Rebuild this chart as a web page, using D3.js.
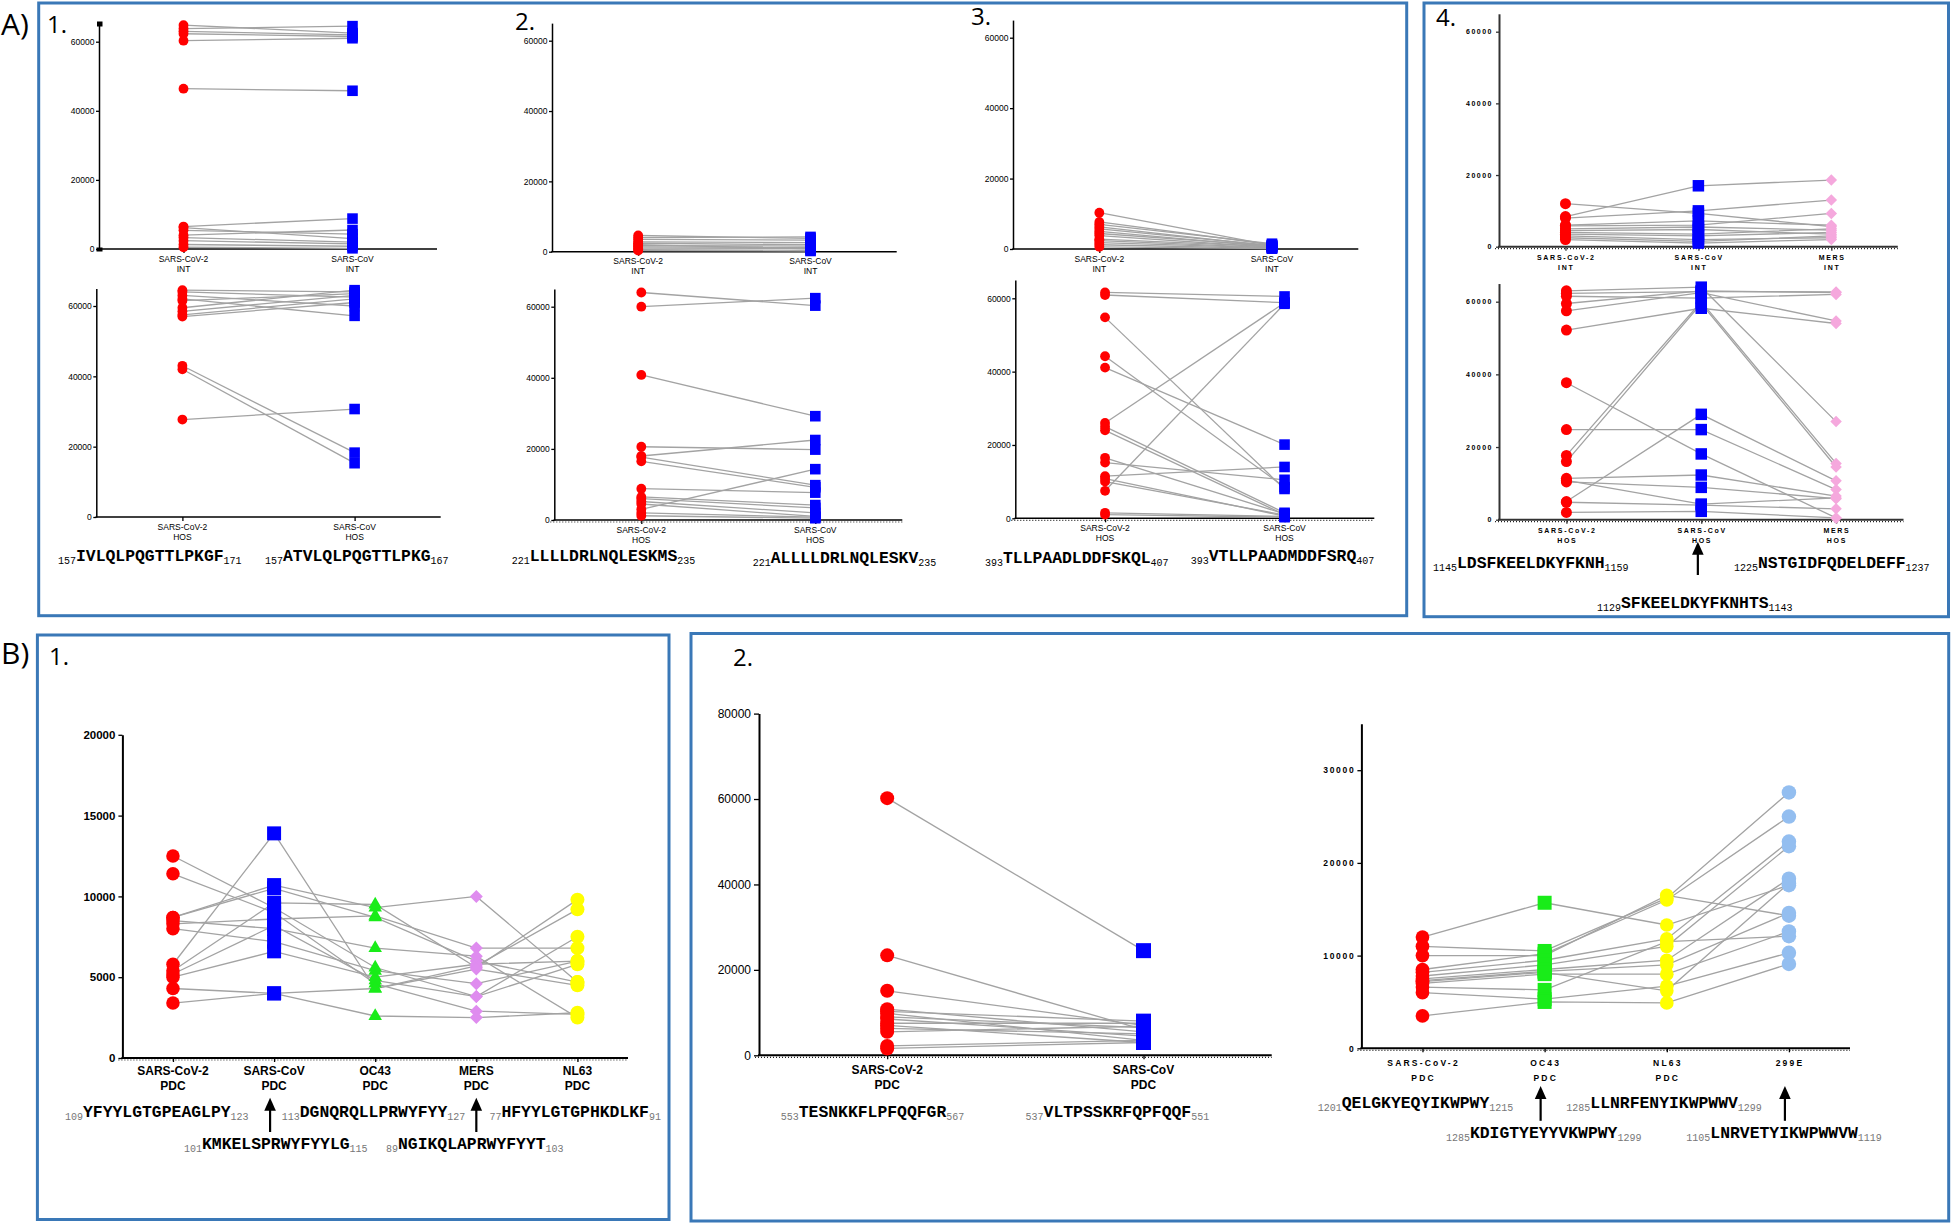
<!DOCTYPE html>
<html><head><meta charset="utf-8">
<script src="https://cdn.jsdelivr.net/npm/d3@7"></script>
<style>body{margin:0;background:#fff}svg{display:block}</style>
</head><body>
<script>
// ---------------- DATA ----------------
const catsA2 = ["SARS-CoV-2", "SARS-CoV"];
const catsA3 = ["SARS-CoV-2", "SARS-CoV", "MERS"];
const catsB1 = ["SARS-CoV-2", "SARS-CoV", "OC43", "MERS", "NL63"];
const catsB2L = ["SARS-CoV-2", "SARS-CoV"];
const catsB2R = ["SARS-CoV-2", "OC43", "NL63", "299E"];
const ticksA = [0, 20000, 40000, 60000];
const ticksB1 = [0, 5000, 10000, 15000, 20000];
const ticksB2L = [0, 20000, 40000, 60000, 80000];
const ticksB2R = [0, 10000, 20000, 30000];

// A1
const a1IntSars2 = [64800, 63800, 63000, 62300, 60300, 46400, 6500, 6200, 5400, 4000, 3300, 2400, 1300, 500];
const a1IntSars  = [62500, 64500, 62000, 61500, 61000, 45800, 8800, 3000, 4300, 5500, 2000, 1500, 800, 200];
const a1HosSars2 = [64500, 64000, 63000, 62000, 61500, 59500, 58500, 57500, 57000, 43000, 42000, 27700];
const a1HosSars  = [64000, 62500, 60000, 57200, 63500, 64500, 63000, 62000, 61000, 18300, 15300, 30700];
// A2
const a2IntSars2 = [4600, 4000, 3500, 2800, 2400, 2000, 1700, 1400, 1000, 600, 300];
const a2IntSars  = [3800, 4200, 3300, 2600, 2000, 800, 1600, 1200, 900, 400, 200];
const a2HosSars2 = [64000, 60000, 40800, 20600, 18000, 17700, 16500, 8800, 3000, 6500, 6000, 5200, 4500, 2000, 1200];
const a2HosSars  = [60300, 62400, 29200, 19800, 22500, 9800, 9200, 7700, 14300, 4200, 3400, 2000, 1000, 800, 500];
// A3
const a3IntSars2 = [10300, 7700, 7000, 6300, 5700, 5000, 4400, 3800, 2800, 2400, 1800, 1200, 600];
const a3IntSars  = [1000, 1200, 1500, 800, 1000, 600, 900, 500, 700, 400, 300, 200, 100];
const a3HosSars2 = [61600, 60900, 54800, 44200, 41100, 26000, 7500, 25000, 24000, 16500, 15200, 11500, 10800, 10000, 1500, 1000];
const a3HosSars  = [60500, 58800, 8000, 8500, 20100, 58800, 58500, 1500, 1000, 1200, 10500, 14000, 600, 900, 500, 300];
// A4
const a4IntSars2 = [12000, 8400, 8000, 6000, 5800, 5000, 4500, 4000, 3500, 3000, 2500, 2000];
const a4IntSars  = [9300, 17000, 10000, 7200, 6000, 5500, 4800, 3500, 3000, 2000, 1500, 1000];
const a4IntMers  = [5600, 18600, 13000, 6000, 9300, 4600, 3500, 5000, 4000, 2500, 3000, 2000];
const a4HosSars2 = [63000, 62300, 61500, 59500, 57500, 52200, 37700, 24800, 17700, 16000, 11400, 10800, 10400, 5000, 4800, 2000];
const a4HosSars  = [64000, 62800, 61000, 63000, 62500, 58200, 18100, 24800, 60000, 59500, 12300, 4300, 8900, 29000, 4000, 2300];
const a4HosMers  = [27000, 62700, 62000, 62500, 54700, 54000, 500, 8300, 15500, 14500, 6500, 6000, 5800, 10700, 3000, 500];
// B1
const b1Sars2 = [12500, 11400, 5800, 8700, 8300, 8000, 8700, 5400, 5200, 5000, 4300, 3400, 8500];
const b1Sars  = [9300, 9000, 13900, 10700, 8600, 7200, 10500, 9600, 8200, 6600, 4000, 4000, 8000];
const b1Oc43  = [5600, 4600, 4300, 9300, 8800, 5400, 8700, 9500, 4800, 5000, 4300, 2600, 6800];
const b1Mers  = [3800, 2900, 5700, 10000, 6800, 4600, 6000, 5600, 3800, 5800, 5500, 2500, 6300];
const b1Nl63  = [5800, 2700, 9200, 4700, 6800, 6000, 4700, 9800, 7500, 6000, 4500, 2800, 2500];
// B2 left
const b2Sars2 = [60200, 23400, 15100, 10800, 10300, 9800, 9000, 8500, 7500, 7000, 6300, 5500, 2200, 1600];
const b2Sars  = [24500, 6000, 7000, 5500, 8000, 3500, 6500, 4500, 7500, 3000, 5000, 6800, 3500, 3000];
// B2 right
const b2rSars2 = [12000, 11000, 10000, 8500, 8200, 7800, 7500, 7300, 7000, 6600, 6000, 3500, 7200];
const b2rOc43  = [15700, 10500, 10000, 10200, 9500, 9000, 8500, 8300, 8000, 6300, 5300, 5000, 8200];
const b2rNl63  = [13300, 16200, 16500, 16000, 11800, 11000, 9500, 9000, 8000, 11500, 6700, 4900, 6200];
const b2r229e  = [17600, 27600, 14300, 25000, 22300, 21800, 18300, 14600, 12600, 12100, 10300, 9100, 17800];

// peptide labels: [prefix, sequence, suffix]
const pepA1 = [["157","IVLQLPQGTTLPKGF","171"],["157","ATVLQLPQGTTLPKG","167"]];
const pepA2 = [["221","LLLLDRLNQLESKMS","235"],["221","ALLLLDRLNQLESKV","235"]];
const pepA3 = [["393","TLLPAADLDDFSKQL","407"],["393","VTLLPAADMDDFSRQ","407"]];
const pepA4 = [["1145","LDSFKEELDKYFKNH","1159"],["1225","NSTGIDFQDELDEFF","1237"],["1129","SFKEELDKYFKNHTS","1143"]];
const pepB1 = [["109","YFYYLGTGPEAGLPY","123"],["113","DGNQRQLLPRWYFYY","127"],["77","HFYYLGTGPHKDLKF","91"],["101","KMKELSPRWYFYYLG","115"],["89","NGIKQLAPRWYFYYT","103"]];
const pepB2L = [["553","TESNKKFLPFQQFGR","567"],["537","VLTPSSKRFQPFQQF","551"]];
const pepB2R = [["1201","QELGKYEQYIKWPWY","1215"],["1285","LLNRFENYIKWPWWV","1299"],["1285","KDIGTYEYYVKWPWY","1299"],["1105","LNRVETYIKWPWWVW","1119"]];

// ---------------- DRAWING ----------------
const W = 1952, H = 1224;
const SANS = "'Liberation Sans', Arial, sans-serif";
const MONO = "'Courier New', 'Liberation Mono', monospace";
const RED = "#ff0000", BLUE = "#0000ff", PINK = "#f5a8dd", VIOLET = "#df8cef",
      GREEN = "#19ec19", YELLOW = "#ffff00", LBLUE = "#93bef0";
const svg = d3.select("body").append("svg").attr("width", W).attr("height", H);

function shapePath(shape, size) {
  const h = size / 2;
  if (shape === "circle") return d3.symbol(d3.symbolCircle, Math.PI * h * h)();
  if (shape === "square") return d3.symbol(d3.symbolSquare, size * size)();
  if (shape === "triangle") return d3.symbol(d3.symbolTriangle, Math.sqrt(3) / 4 * size * size)();
  return `M0,${-h}L${h},0L0,${h}L${-h},0Z`;
}

function drawChart(c) {
  const g = svg.append("g");
  const x = d3.scalePoint().domain(c.cats).range([c.x0, c.x1]).padding(0.5);
  const yTop = c.y0 - (c.y0 - c.yRef) * c.ymax / c.ref;
  const y = d3.scaleLinear().domain([0, c.ymax]).range([c.y0, yTop]);
  if (c.dotted) {
    g.append("line").attr("x1", c.x0 - 4).attr("x2", c.x1).attr("y1", c.y0 + 2).attr("y2", c.y0 + 2)
      .attr("stroke", "#222").attr("stroke-width", 1.2).attr("stroke-dasharray", "1,2");
  }
  const ya = g.append("g").attr("transform", `translate(${c.x0},0)`)
    .call(d3.axisLeft(y).tickValues(c.ticks).tickSize(c.tickLen).tickSizeOuter(0).tickPadding(c.tickPad).tickFormat(d3.format("d")));
  ya.select(".domain").attr("stroke", c.axisColor).attr("stroke-width", c.axisW);
  ya.selectAll(".tick line").attr("stroke", c.axisColor).attr("stroke-width", 1.3);
  ya.selectAll(".tick text").attr("font-family", SANS).attr("font-size", c.tickFont)
    .attr("font-weight", c.tickBold ? "bold" : "normal").attr("letter-spacing", c.tickLS || 0).attr("fill", "#000");
  const xa = g.append("g").attr("transform", `translate(0,${c.y0})`)
    .call(d3.axisBottom(x).tickSize(4).tickSizeOuter(0).tickFormat(""));
  xa.select(".domain").attr("stroke", c.axisColor).attr("stroke-width", c.axisW)
    .attr("d", `M${c.x0 - c.axisW / 2},0H${c.x1}`);
  xa.selectAll(".tick line").attr("stroke", c.axisColor).attr("stroke-width", 1.3);
  c.cats.forEach((cat, j) => {
    const t = g.append("text").attr("x", x(cat)).attr("text-anchor", "middle")
      .attr("font-family", SANS).attr("font-size", c.catFont).attr("font-weight", c.catBold ? "bold" : "normal")
      .attr("letter-spacing", c.catLS || 0).attr("fill", "#000");
    t.append("tspan").attr("x", x(cat) + (c.catLS || 0) / 2).attr("y", c.y0 + c.labDy[0]).text(cat);
    const sub = Array.isArray(c.sub) ? c.sub[j] : c.sub;
    if (sub) t.append("tspan").attr("x", x(cat) + (c.catLS || 0) / 2).attr("y", c.y0 + c.labDy[1]).text(sub);
  });
  const n = c.series[0].vals.length;
  const line = d3.line();
  for (let i = 0; i < n; i++) {
    const pts = c.series.map((s, j) => [x(c.cats[j]), y(s.vals[i])]);
    g.append("path").attr("d", line(pts)).attr("fill", "none")
      .attr("stroke", "#a3a3a3").attr("stroke-width", 1.3);
  }
  c.series.forEach((s, j) => {
    g.append("g").selectAll("path").data(s.vals).join("path")
      .attr("transform", d => `translate(${x(c.cats[j])},${y(d)})`)
      .attr("d", shapePath(s.shape, s.size)).attr("fill", s.color);
  });
  return { x, y };
}

const aBase = { ymax: 65000, ref: 60000, ticks: ticksA, tickLen: 3, tickPad: 1.5, tickFont: 8.5,
  axisColor: "#000", axisW: 1.5, catFont: 8.5, labDy: [12.5, 22.5] };
const cS = (vals) => ({ vals, shape: "circle", color: RED, size: 9.8 });
const sS = (vals) => ({ vals, shape: "square", color: BLUE, size: 10.6 });

// A1
drawChart({ ...aBase, cats: catsA2, sub: "INT", x0: 99, x1: 437, y0: 249, yRef: 41.7, series: [cS(a1IntSars2), sS(a1IntSars)] });
drawChart({ ...aBase, cats: catsA2, sub: "HOS", x0: 96.3, x1: 440.7, y0: 517, yRef: 306, series: [cS(a1HosSars2), sS(a1HosSars)] });
svg.append("rect").attr("x", 97).attr("y", 21.5).attr("width", 5.5).attr("height", 5).attr("fill", "#000");
svg.append("rect").attr("x", 96.5).attr("y", 247.5).attr("width", 6).attr("height", 4).attr("fill", "#000");
// A2
drawChart({ ...aBase, cats: catsA2, sub: "INT", x0: 552, x1: 896.7, y0: 251.7, yRef: 40.7, series: [cS(a2IntSars2), sS(a2IntSars)] });
drawChart({ ...aBase, cats: catsA2, sub: "HOS", x0: 554.3, x1: 902.3, y0: 520, yRef: 306.7, dotted: true, series: [cS(a2HosSars2), sS(a2HosSars)] });
// A3
drawChart({ ...aBase, cats: catsA2, sub: "INT", x0: 1013, x1: 1358.3, y0: 249, yRef: 37.7, series: [cS(a3IntSars2), sS(a3IntSars)] });
drawChart({ ...aBase, cats: catsA2, sub: "HOS", x0: 1015.3, x1: 1374.3, y0: 518.3, yRef: 298.3, dotted: true, series: [cS(a3HosSars2), sS(a3HosSars)] });
// A4
const a4Base = { ...aBase, tickFont: 7, tickBold: true, tickLS: 1.5, tickLen: 3, tickPad: 3, axisColor: "#333", axisW: 2,
  catFont: 7, catBold: true, catLS: 1.7, labDy: [13, 23], dotted: true };
const a4Ser = (v1, v2, v3) => [{ vals: v1, shape: "circle", color: RED, size: 11 }, { vals: v2, shape: "square", color: BLUE, size: 11.5 }, { vals: v3, shape: "diamond", color: PINK, size: 11.5 }];
drawChart({ ...a4Base, cats: catsA3, sub: "INT", x0: 1499, x1: 1897.8, y0: 246.7, yRef: 31.7, series: a4Ser(a4IntSars2, a4IntSars, a4IntMers) });
const a4h = drawChart({ ...a4Base, cats: catsA3, sub: "HOS", x0: 1499, x1: 1903.5, y0: 519.7, yRef: 301.7, series: a4Ser(a4HosSars2, a4HosSars, a4HosMers) });

// B1
const b1 = drawChart({ cats: catsB1, sub: "PDC", x0: 122.4, x1: 628, y0: 1058, yRef: 734.8, ref: 20000, ymax: 20000, ticks: ticksB1,
  tickLen: 4, tickPad: 3, tickFont: 11.5, tickBold: true, axisColor: "#000", axisW: 2, catFont: 12, catBold: true, labDy: [17, 32], dotted: true,
  series: [{ vals: b1Sars2, shape: "circle", color: RED, size: 13.5 }, { vals: b1Sars, shape: "square", color: BLUE, size: 14 },
    { vals: b1Oc43, shape: "triangle", color: GREEN, size: 13.5 }, { vals: b1Mers, shape: "diamond", color: VIOLET, size: 13 },
    { vals: b1Nl63, shape: "circle", color: YELLOW, size: 14 }] });
// B2 left
drawChart({ cats: catsB2L, sub: "PDC", x0: 759, x1: 1271.7, y0: 1055.3, yRef: 713.6, ref: 80000, ymax: 80000, ticks: ticksB2L,
  tickLen: 5, tickPad: 3, tickFont: 12, axisColor: "#000", axisW: 2, catFont: 12, catBold: true, labDy: [18.5, 34], dotted: true,
  series: [{ vals: b2Sars2, shape: "circle", color: RED, size: 14 }, { vals: b2Sars, shape: "square", color: BLUE, size: 15 }] });
// B2 right
const b2r = drawChart({ cats: catsB2R, sub: ["PDC", "PDC", "PDC", ""], x0: 1361.4, x1: 1850, y0: 1048.3, yRef: 770.2, ref: 30000, ymax: 35000, ticks: ticksB2R,
  tickLen: 4, tickPad: 2, tickFont: 8.5, tickBold: true, tickLS: 1.7, axisColor: "#000", axisW: 2, catFont: 8.5, catBold: true, catLS: 2.2, labDy: [18, 33], dotted: true,
  series: [{ vals: b2rSars2, shape: "circle", color: RED, size: 13.7 }, { vals: b2rOc43, shape: "square", color: GREEN, size: 14 },
    { vals: b2rNl63, shape: "circle", color: YELLOW, size: 13.7 }, { vals: b2r229e, shape: "circle", color: LBLUE, size: 14.5 }] });

// ---------------- ANNOTATIONS ----------------
function peptide(x, y, p, subColor) {
  const t = svg.append("text").attr("x", x).attr("y", y).attr("font-family", MONO).attr("fill", "#000");
  t.append("tspan").attr("font-size", 10).attr("dy", 3).attr("fill", subColor).text(p[0]);
  t.append("tspan").attr("font-size", 16.4).attr("font-weight", "bold").attr("dy", -3).text(p[1]);
  t.append("tspan").attr("font-size", 10).attr("dy", 3).attr("fill", subColor).text(p[2]);
}
peptide(58, 561, pepA1[0], "#000"); peptide(265, 561, pepA1[1], "#000");
peptide(511.7, 561, pepA2[0], "#000"); peptide(752.7, 563, pepA2[1], "#000");
peptide(985, 562.5, pepA3[0], "#000"); peptide(1190.7, 560.5, pepA3[1], "#000");
peptide(1433, 568, pepA4[0], "#000"); peptide(1734, 568, pepA4[1], "#000"); peptide(1597, 607.5, pepA4[2], "#000");
peptide(65, 1117, pepB1[0], "#777"); peptide(281.7, 1117, pepB1[1], "#777"); peptide(489.4, 1117, pepB1[2], "#777");
peptide(184, 1148.5, pepB1[3], "#777"); peptide(386, 1148.5, pepB1[4], "#777");
peptide(780.7, 1117, pepB2L[0], "#777"); peptide(1025.6, 1117, pepB2L[1], "#777");
peptide(1317.7, 1107.5, pepB2R[0], "#777"); peptide(1566.3, 1107.5, pepB2R[1], "#777");
peptide(1445.9, 1137.5, pepB2R[2], "#777"); peptide(1686.3, 1137.5, pepB2R[3], "#777");

function arrow(x, yBottom, yTip) {
  svg.append("line").attr("x1", x).attr("x2", x).attr("y1", yBottom).attr("y2", yTip + 10)
    .attr("stroke", "#000").attr("stroke-width", 2.2);
  svg.append("path").attr("d", `M${x},${yTip}L${x + 5.8},${yTip + 13}L${x - 5.8},${yTip + 13}Z`).attr("fill", "#000");
}
arrow(a4h.x("SARS-CoV") - 3.4, 575, 541.7);
arrow(b1.x("SARS-CoV") - 4, 1132, 1097.7);
arrow(b1.x("MERS"), 1132, 1097.7);
arrow(b2r.x("OC43") - 4, 1120.8, 1086);
arrow(b2r.x("299E") - 4, 1120.8, 1086);

const frame = (x, y, w, h) => svg.append("rect").attr("x", x).attr("y", y).attr("width", w).attr("height", h)
  .attr("fill", "none").attr("stroke", "#3a78b7").attr("stroke-width", 3);
frame(38.7, 3, 1368, 612.7);
frame(1424, 3, 524.5, 613.7);
frame(37.4, 635, 631.6, 584.5);
frame(691, 633.5, 1257.7, 587.5);

const title = (x, y, s, size) => svg.append("text").attr("x", x).attr("y", y).attr("font-family", "'Open Sans', 'Liberation Sans', sans-serif")
  .attr("font-size", size).attr("fill", "#000").text(s);
title(1, 35, "A)", 30); title(47, 33, "1.", 24); title(515, 30, "2.", 24); title(971, 25, "3.", 24); title(1436, 25.5, "4.", 24);
title(1, 664, "B)", 30); title(49, 665, "1.", 24); title(733, 666, "2.", 24);
</script>
</body></html>
